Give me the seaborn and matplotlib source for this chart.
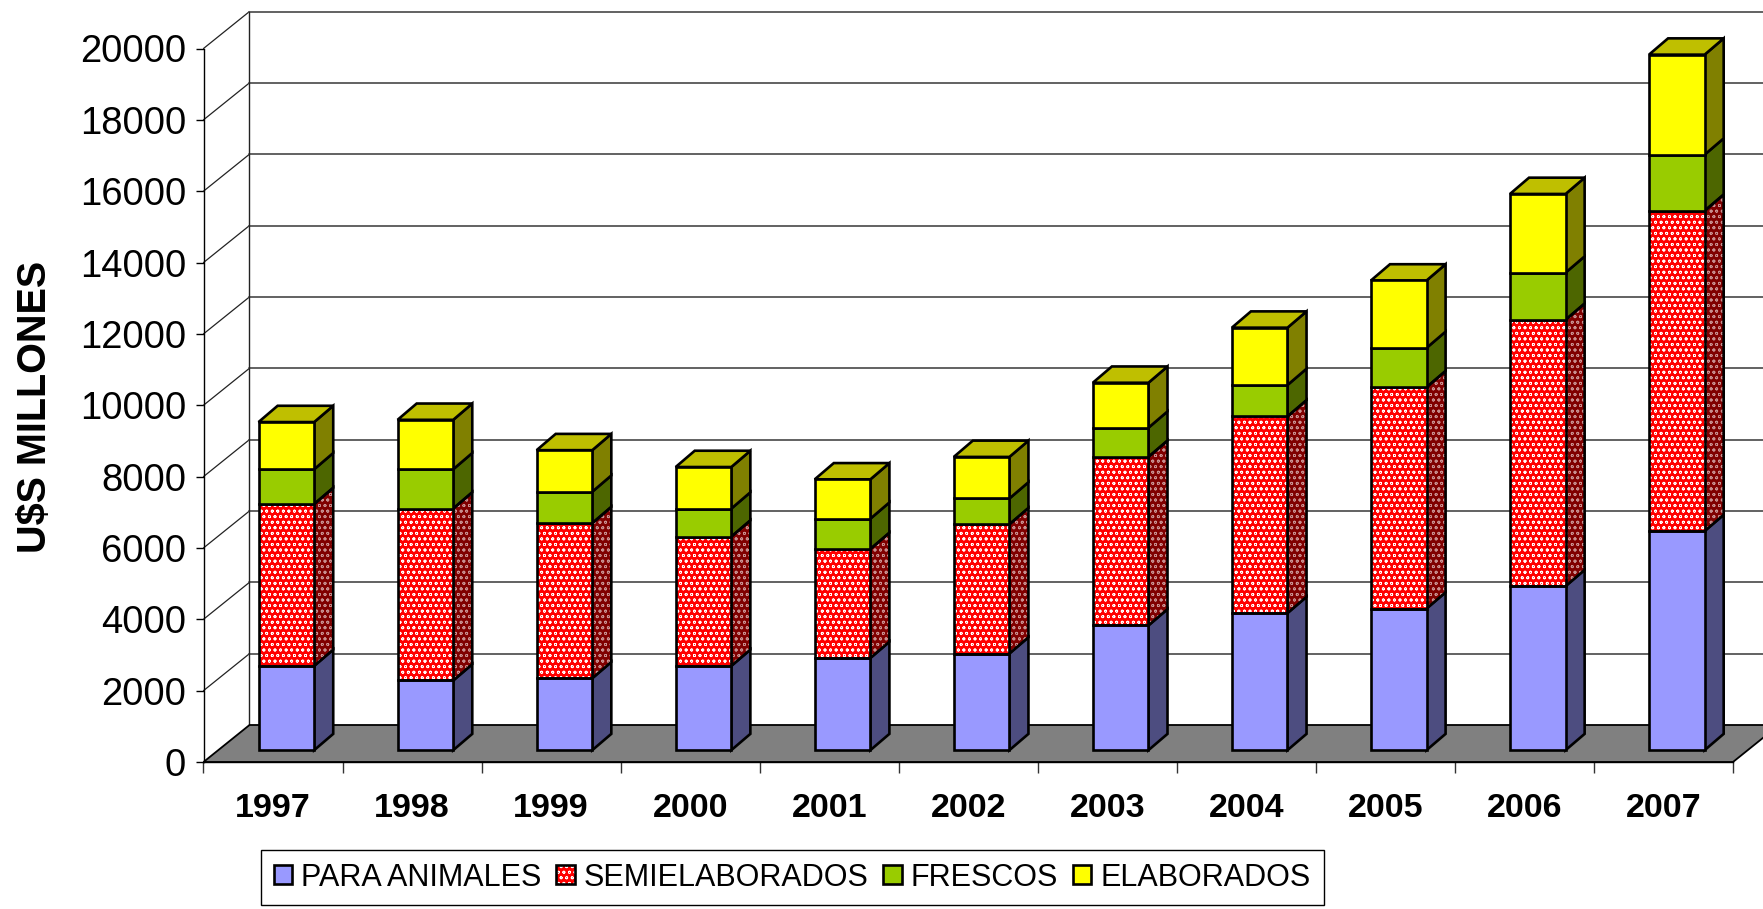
import numpy as np
import pandas as pd
import matplotlib
matplotlib.use("Agg")
import matplotlib.pyplot as plt
from matplotlib.patches import Patch
from matplotlib.legend_handler import HandlerTuple
import seaborn as sns

years = ["1997", "1998", "1999", "2000", "2001", "2002", "2003", "2004", "2005", "2006", "2007"]
para_animales = [2362, 1953, 2016, 2362, 2583, 2709, 3496, 3843, 3969, 4598, 6142]
semielaborados = [4536, 4819, 4346, 3622, 3055, 3622, 4724, 5511, 6204, 7465, 8976]
frescos = [976, 1102, 882, 788, 850, 724, 819, 882, 1103, 1323, 1575]
elaborados = [1323, 1386, 1165, 1165, 1103, 1165, 1260, 1607, 1889, 2205, 2803]

series_names = ["PARA ANIMALES", "SEMIELABORADOS", "FRESCOS", "ELABORADOS"]
series_values = [para_animales, semielaborados, frescos, elaborados]
front_colors = ["#9999FF", "#FF0000", "#99CC00", "#FFFF00"]
side_colors = ["#4D4D80", "#800000", "#4D6600", "#808000"]
top_color = "#BFBF00"

sns.set_theme(style="white")
plt.rcParams["font.family"] = ["Liberation Sans", "DejaVu Sans"]
plt.rcParams["hatch.linewidth"] = 0.55

W, H = 1763, 909
fig = plt.figure(figsize=(W / 100, H / 100), dpi=100, facecolor="white")
ax = fig.add_axes([203.5 / W, (H - 762) / H, 1529.5 / W, 713.5 / H])
ax.patch.set_alpha(0)

YMAX = 20000
yticks = np.arange(0, YMAX + 1, 2000)
XL, XR = -0.5, len(years) - 0.5
DXU = 46 / (1529.5 / len(years))      # depth expressed in category units
DYU = 37 / (713.5 / YMAX)             # depth expressed in value units
BX0, BXD = 0.096, 0.137               # bar front offset and side width, category units
BY0, BYD = 0.32 * DYU, 0.44 * DYU     # bar front offset and side rise, value units
BAR_W = 0.40
LW = 1.9
HATCH = "ooo"
pos = np.arange(len(years), dtype=float)

# back wall and side wall lines
wall_x = XL + DXU
for t in yticks:
    if t > 0:
        ax.plot([XL, wall_x], [t, t + DYU], color="#222222", lw=0.9, zorder=1, clip_on=False)
        ax.plot([wall_x, XR + DXU], [t + DYU, t + DYU], color="#555555", lw=1.3, zorder=1, clip_on=False)
ax.plot([wall_x, wall_x], [DYU, YMAX + DYU], color="#222222", lw=1.0, zorder=1, clip_on=False)

# floor
ax.fill([XL, XR, XR + DXU, XL + DXU], [0, 0, DYU, DYU], facecolor="#808080", edgecolor="black",
        lw=1.3, zorder=1.5, clip_on=False)

# stacked 3D bars
bottom = np.zeros(len(years))
fx = pos + BX0
for i, (vals, name) in enumerate(zip(series_values, series_names)):
    vals = np.asarray(vals, float)
    top = bottom + vals
    hatched = name == "SEMIELABORADOS"
    df = pd.DataFrame({"x": fx, "v": vals})
    common = dict(data=df, x="x", y="v", native_scale=True, width=BAR_W, ax=ax, errorbar=None,
                  bottom=bottom + BY0, clip_on=False, saturation=1)
    # side faces
    for k in range(len(years)):
        xr = fx[k] + BAR_W / 2
        px = [xr, xr + BXD, xr + BXD, xr]
        py = [bottom[k] + BY0, bottom[k] + BY0 + BYD, top[k] + BY0 + BYD, top[k] + BY0]
        if hatched:
            ax.fill(px, py, facecolor=side_colors[i], edgecolor="#C89090", hatch=HATCH, lw=0, zorder=3, clip_on=False)
            ax.fill(px, py, facecolor="none", edgecolor="black", lw=LW, zorder=3.5, clip_on=False)
        else:
            ax.fill(px, py, facecolor=side_colors[i], edgecolor="black", lw=LW, zorder=3, clip_on=False, joinstyle="miter")
        if i == len(series_values) - 1:
            xl = fx[k] - BAR_W / 2
            ax.fill([xl, xr, xr + BXD, xl + BXD],
                    [top[k] + BY0, top[k] + BY0, top[k] + BY0 + BYD, top[k] + BY0 + BYD],
                    facecolor=top_color, edgecolor="black", lw=LW, zorder=3, clip_on=False, joinstyle="miter")
    # front faces
    if hatched:
        sns.barplot(color=front_colors[i], edgecolor="white", hatch=HATCH, linewidth=0, zorder=3.6, **common)
        sns.barplot(color="black", fill=False, linewidth=LW, zorder=4, **common)
    else:
        sns.barplot(color=front_colors[i], edgecolor="black", linewidth=LW, zorder=4, **common)
    bottom = top

# axes
ax.set_xlim(XL, XR)
ax.set_ylim(0, YMAX)
for s in ["top", "right"]:
    ax.spines[s].set_visible(False)
for s in ["left", "bottom"]:
    ax.spines[s].set_visible(True)
    ax.spines[s].set_color("black")
    ax.spines[s].set_linewidth(1.0)
    ax.spines[s].set_zorder(2)
ax.set_yticks(yticks)
ax.set_yticklabels([str(t) for t in yticks], fontsize=27.5, color="black")
ax.tick_params(axis="y", left=True, length=6, width=1, color="black", pad=6.5)
ax.set_xticks(pos)
ax.set_xticklabels(years, fontsize=24.5, fontweight="bold", color="black")
ax.set_xticks(np.arange(XL, XR + 0.5), minor=True)
ax.tick_params(axis="x", which="major", bottom=False, length=0, pad=22.5)
ax.tick_params(axis="x", which="minor", bottom=True, length=8, width=1, color="#333333")
ax.set_xlabel("")
ax.set_ylabel("U$S MILLONES", fontsize=28.5, fontweight="bold", color="black", va="center")
ax.yaxis.set_label_coords((35 - 203.5) / 1529.5, 0.5 + (713.5 / 2 + 48.5 - 407) / 713.5)

# legend
handles = []
for i, name in enumerate(series_names):
    if name == "SEMIELABORADOS":
        handles.append((Patch(facecolor=front_colors[i], edgecolor="white", hatch=HATCH, lw=0),
                        Patch(facecolor="none", edgecolor="black", lw=1.9)))
    else:
        handles.append(Patch(facecolor=front_colors[i], edgecolor="black", lw=1.9))
leg = fig.legend(handles, series_names, loc="center left",
                 bbox_to_anchor=(261 / W, (H - 877.5) / H), ncol=4, fontsize=22,
                 frameon=True, fancybox=False, edgecolor="black", facecolor="white", framealpha=1,
                 handlelength=0.6, handleheight=0.6, handletextpad=0.3, columnspacing=0.48,
                 borderpad=0.42, borderaxespad=0, labelcolor="black",
                 handler_map={tuple: HandlerTuple(ndivide=1, pad=0)})
leg.get_frame().set_linewidth(1.0)

fig.savefig("out.png", dpi=100)
